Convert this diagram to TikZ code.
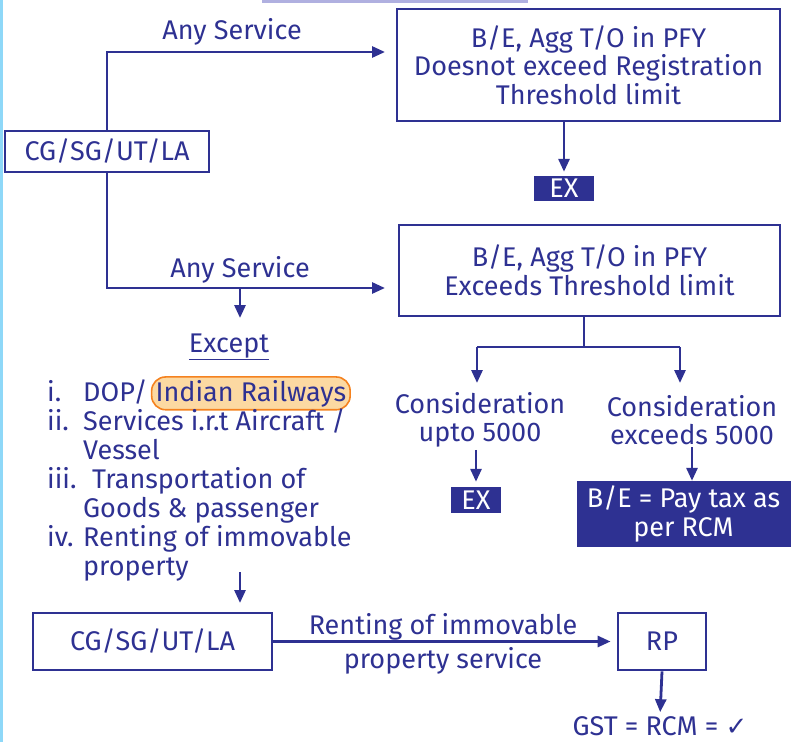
\documentclass[tikz,border=0pt]{standalone}
\usepackage{fontspec}
\setmainfont{Fira Sans}
\newfontfamily\symf{DejaVu Sans}
\usetikzlibrary{arrows.meta,calc}
\definecolor{navy}{HTML}{2E3192}
\definecolor{hlfill}{HTML}{FCD9A2}
\definecolor{hlline}{HTML}{F5821F}
\definecolor{edgecyan}{HTML}{8ED8F8}
\definecolor{edgelav}{HTML}{B0B0E0}
\tikzset{
  txt/.style={text=navy, inner sep=0pt, align=center},
  box/.style={draw=navy, line width=2.8pt, text=navy, align=center, inner sep=0pt},
  fbox/.style={fill=navy, text=white, align=center, inner sep=0pt},
  conn/.style={draw=navy, line width=2.8pt},
  arr/.style={conn, -{Triangle[length=13pt,width=11pt]}},
  li/.style={text=navy, inner sep=0pt, anchor=base west},
  hlbox/.style={text=navy, anchor=base west, draw=hlline, fill=hlfill, line width=1.6pt, rounded corners=14pt, inner xsep=4pt, inner ysep=3pt}
}
\begin{document}
\begin{tikzpicture}[x=1pt,y=-1pt, font=\fontsize{27}{28.5}\selectfont]
\useasboundingbox (0,0) rectangle (793,742);
% frame remnants
\fill[edgecyan] (0,0) rectangle (2.5,742);
\fill[edgelav] (262,0) rectangle (528,2.5);

% boxes
\node[box, minimum width=204pt, minimum height=41pt] (A) at (107,151.5) {CG/SG/UT/LA};
\node[box, minimum width=383pt, minimum height=112pt] (B) at (588.5,65) {B/E, Agg T/O in PFY\\Doesnot exceed Registration\\Threshold limit};
\node[fbox, minimum width=60pt, minimum height=25pt] (EX1) at (564,188.5) {EX};
\node[box, minimum width=381pt, minimum height=91pt] (C) at (589.5,270.5) {B/E, Agg T/O in PFY\\Exceeds Threshold limit};

\node[txt] (any1) at (232,32) {Any Service};
\node[txt] (any2) at (240,270) {Any Service};
\node[txt] (except) at (229,347) {\underline{Except}};

% list
\node[li] (n1) at (47,401) {i.};
\node[li] (t1) at (83,401) {DOP/};
\node[hlbox] (hl) at ($(t1.base east)+(3,0)$) {Indian Railways};
\node[li] (n2) at (47,430) {ii.};
\node[li] (t2) at (83,430) {Services i.r.t Aircraft /};
\node[li] (t2b) at (83,459) {Vessel};
\node[li] (n3) at (47,488) {iii.};
\node[li] (t3) at (92,488) {Transportation of};
\node[li] (t3b) at (83,517) {Goods \& passenger};
\node[li] (n4) at (47,546) {iv.};
\node[li] (t4) at (83,546) {Renting of immovable};
\node[li] (t4b) at (83,575) {property};

% consideration branch
\node[txt] (c1) at (480,420) {Consideration\\upto 5000};
\node[txt] (c2) at (692,420) {Consideration\\exceeds 5000};
\node[fbox, minimum width=50pt, minimum height=26pt] (EX2) at (476,500) {EX};
\node[fbox, minimum width=214pt, minimum height=66pt] (BE) at (683.5,514) {B/E = Pay tax as\\per RCM};

% bottom
\node[box, minimum width=239pt, minimum height=57pt] (D) at (152.5,641.5) {CG/SG/UT/LA};
\node[box, minimum width=88pt, minimum height=57pt] (RP) at (662,641.5) {RP};
\node[txt] (rent1) at (443,627) {Renting of immovable};
\node[txt] (rent2) at (443,661) {property service};
\node[txt] (gst) at (660,726) {GST = RCM = {\symf\fontsize{26}{28}\selectfont ✓}};

% coordinates
\coordinate (tA1) at (385,52);
\coordinate (tA2) at (385,288);
\coordinate (j1) at (240,288);
\coordinate (e1) at (240,318);
\coordinate (sp) at (584,347);
\coordinate (sl) at (477,347);
\coordinate (sr) at (680,347);
\coordinate (l1) at (477,383);
\coordinate (r1) at (680,383);
\coordinate (ds) at (240,572);
\coordinate (de) at (240,603);

% connectors
\draw[arr] (A.north) |- (tA1);
\draw[arr] (A.south) |- (tA2);
\draw[arr] (j1) -- (e1);
\draw[arr, shorten >=4pt] (B.south -| EX1.north) -- (EX1.north);
\draw[conn] (C.south -| sp) -- (sp);
\draw[conn] (sl) -- (sr);
\draw[arr] (sl) -- (l1);
\draw[arr] (sr) -- (r1);
\draw[arr, shorten >=5pt, shorten <=2pt] (c1.south -| EX2.north) -- (EX2.north);
\draw[arr, shorten <=2pt] (c2.south) -- (c2.south |- BE.north);
\draw[arr] (ds) -- (de);
\draw[arr, shorten >=6pt] (D.east) -- (RP.west);
\draw[arr, shorten >=4pt] (RP.south) -- (gst.north);
\end{tikzpicture}
\end{document}
